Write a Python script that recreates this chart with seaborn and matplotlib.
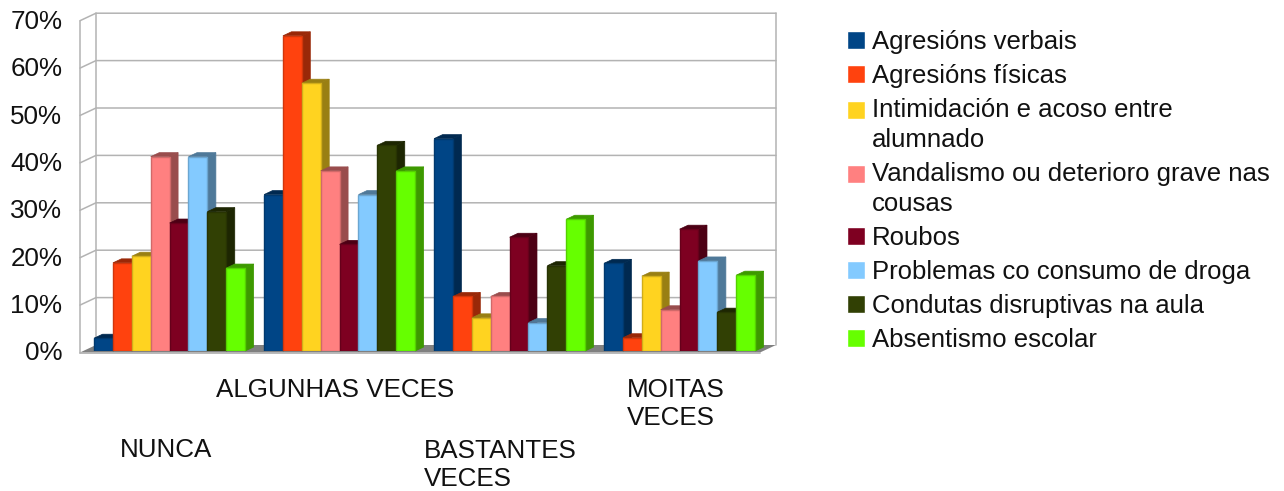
#!/usr/bin/env python3
# -*- coding: utf-8 -*-

import matplotlib
matplotlib.use('Agg')
import matplotlib.pyplot as plt
from matplotlib.colors import to_rgb
from matplotlib.patches import Polygon
import pandas as pd
import seaborn as sns

categories = ['NUNCA', 'ALGUNHAS VECES', 'BASTANTES\nVECES', 'MOITAS\nVECES']

agresions_verbais = [2.7, 33.0, 44.8, 18.5]
agresions_fisicas = [18.6, 66.5, 11.5, 2.8]
intimidacion = [20.0, 56.5, 7.0, 15.8]
vandalismo = [41.0, 38.0, 11.5, 8.7]
roubos = [27.0, 22.5, 24.0, 25.7]
consumo_droga = [41.0, 33.0, 6.0, 19.0]
condutas = [29.4, 43.4, 18.0, 8.2]
absentismo = [17.5, 38.0, 27.8, 16.0]

series_names = ['Agresións verbais', 'Agresións físicas',
                'Intimidación e acoso entre\nalumnado',
                'Vandalismo ou deterioro grave nas\ncousas', 'Roubos',
                'Problemas co consumo de droga',
                'Condutas disruptivas na aula', 'Absentismo escolar']
series_values = [agresions_verbais, agresions_fisicas, intimidacion, vandalismo,
                 roubos, consumo_droga, condutas, absentismo]
colors = ['#004586', '#ff420e', '#ffd320', '#ff8080',
          '#7e0021', '#83caff', '#314004', '#66ff00']
y_ticks = [0, 10, 20, 30, 40, 50, 60, 70]

FIG_W, FIG_H = 1284, 491
AX_LEFT, AX_RIGHT = 84.6, 764.6
AX_TOP, AX_BOTTOM = 19.2, 351.0
X_PX = (AX_RIGHT - AX_LEFT) / 4.0
Y_PX = (AX_BOTTOM - AX_TOP) / 70.0
GREY = '#b3b3b3'
FONT_SIZE = 18.7


def shade(color, k=0.6):
    return tuple(c * k for c in to_rgb(color))


def px_x(px):
    # pixel column of the picture to x data value
    return (px - AX_LEFT) / X_PX - 0.5


def px_y(px):
    # pixel offset above the bar base to percent
    return px / Y_PX


def draw_walls(ax):
    fl, fr = px_x(80), px_x(760)
    bl, br = px_x(96), px_x(776)
    front0, back0 = px_y(-1.5), px_y(6)

    ax.add_patch(Polygon([(fl, front0), (fr, front0), (br, back0), (bl, back0)],
                         closed=True, fc='#808080', ec='none', zorder=1, clip_on=False))
    for val in y_ticks[1:]:
        ax.plot([fl, bl, br], [val + front0, val + back0, val + back0], color=GREY,
                lw=1.1, zorder=0.5, clip_on=False)
    ax.plot([fl, fl], [front0, 70 + front0], color=GREY, lw=1.1, zorder=0.5, clip_on=False)
    ax.plot([bl, bl], [back0, 70 + back0], color=GREY, lw=1.1, zorder=0.5, clip_on=False)
    ax.plot([br, br], [back0, 70 + back0], color=GREY, lw=1.1, zorder=0.5, clip_on=False)
    ax.plot([fl, fr], [front0, front0], color=GREY, lw=1.3, zorder=1.1, clip_on=False)


def draw_bar_depth(ax):
    dx = 8.5 / X_PX
    dy = px_y(4)
    bars = []
    for container, color in zip(ax.containers, colors):
        for bar in container:
            bars.append((bar.get_x(), bar, color))
    bars.sort(key=lambda item: item[0])

    for i, (x0, bar, color) in enumerate(bars):
        x1 = x0 + bar.get_width()
        h = bar.get_height()
        z = 3 + i * 0.01
        side = shade(color)
        bar.set_zorder(z + 0.005)
        bar.set_edgecolor(shade(color, 0.82))
        bar.set_linewidth(1.0)
        ax.add_patch(Polygon([(x1, 0), (x1 + dx, dy), (x1 + dx, h + dy), (x1, h)],
                             closed=True, fc=side, ec=side, lw=0.5, zorder=z, clip_on=False))
        ax.add_patch(Polygon([(x0, h), (x0 + dx, h + dy), (x1 + dx, h + dy), (x1, h)],
                             closed=True, fc=side, ec=side, lw=0.5, zorder=z, clip_on=False))


rows = []
for name, values in zip(series_names, series_values):
    for category, value in zip(categories, values):
        rows.append({'categoria': category, 'serie': name, 'valor': value})
df = pd.DataFrame(rows)

sns.set_theme(style='white')
plt.rcParams['font.family'] = ['Liberation Sans', 'DejaVu Sans']

fig = plt.figure(figsize=(FIG_W / 100, FIG_H / 100), dpi=100)
ax = fig.add_axes([AX_LEFT / FIG_W, 1 - AX_BOTTOM / FIG_H,
                   (AX_RIGHT - AX_LEFT) / FIG_W, (AX_BOTTOM - AX_TOP) / FIG_H])

sns.barplot(data=df, x='categoria', y='valor', hue='serie', hue_order=series_names,
            palette=colors, saturation=1, width=8 / 9, gap=0, errorbar=None, ax=ax)

handles, labels = ax.get_legend_handles_labels()
ax.get_legend().remove()

ax.set_xlim(-0.5, 3.5)
ax.set_ylim(0, 70)
draw_walls(ax)
draw_bar_depth(ax)

for spine in ax.spines.values():
    spine.set_visible(False)
ax.patch.set_alpha(0)
ax.set_xlabel('')
ax.set_ylabel('')

ax.set_yticks(y_ticks)
ax.set_yticklabels(['{}%'.format(v) for v in y_ticks], fontsize=18.7, color='#111111')
ax.tick_params(axis='y', length=0, pad=16)

# labels sit a little left of the bar groups, as in the picture
ax.set_xticks([i + off / X_PX for i, off in enumerate([-4.0, -4.6, -9.0, -3.6])])
ax.set_xticklabels(categories, fontsize=FONT_SIZE, color='#111111', multialignment='left',
                   linespacing=1.25)
ax.tick_params(axis='x', length=0)
for tick, pad in zip(ax.xaxis.get_major_ticks(), [62.5, 19.2, 63, 19.2]):
    tick.set_pad(pad)

leg = fig.legend(handles, labels, loc='upper left',
                 bbox_to_anchor=(847 / FIG_W, 1 - 30 / FIG_H), frameon=False,
                 fontsize=18.5, handlelength=0.7, handleheight=0.7,
                 handletextpad=0.26, labelspacing=0.39, borderpad=0, borderaxespad=0,
                 labelcolor='#111111')
for text, handle in zip(leg.get_texts(), leg.legend_handles):
    text.set_linespacing(1.32)
    if '\n' in text.get_text():
        # the square stands next to the first line of a wrapped label
        handle.set_y(handle.get_y() + 11)

fig.savefig('out.png', dpi=100)
